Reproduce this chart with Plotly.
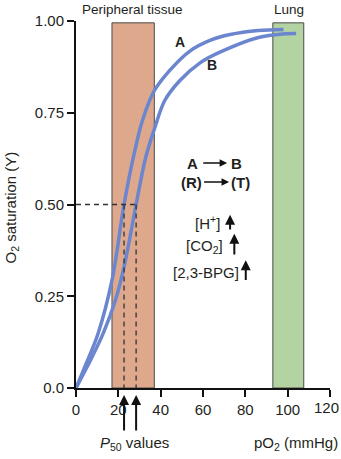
import plotly.graph_objects as go

# Oxygen binding curves (pO2 in mmHg, fractional saturation Y)
curve_a_po2 = [0, 4.1, 10.4, 17.0, 22.7, 27.5, 31.4, 37.0, 44.4, 53.8, 63.3, 72.8, 86.2, 98.0]
curve_a_sat = [0, 0.057, 0.148, 0.293, 0.50, 0.639, 0.729, 0.81, 0.866, 0.918, 0.947, 0.963, 0.974, 0.977]
curve_b_po2 = [0, 5.2, 12.8, 18.6, 22.7, 28.4, 33.0, 37.0, 42.0, 49.1, 58.6, 68.0, 86.2, 98.8, 104.0]
curve_b_sat = [0, 0.057, 0.148, 0.239, 0.33, 0.50, 0.63, 0.705, 0.784, 0.838, 0.886, 0.915, 0.955, 0.965, 0.966]

# P50 values for each curve
p50_values = [22.7, 28.4]

# pO2 bands
tissue_band = [17.0, 37.0]
lung_band = [93.0, 107.6]
band_top = 0.995

x_ticks = [0, 20, 40, 60, 80, 100, 120]
x_tick_text = ["0", "20", "40", "60", "80", "100", ""]  # last label placed separately at the edge
y_ticks = [0, 0.25, 0.5, 0.75, 1.0]
y_tick_text = ["0.0", "0.25", "0.50", "0.75", "1.00"]

TEXT = "#231f20"
FONT = "Liberation Sans, Arial, sans-serif"
CURVE = "#6b86cf"

fig = go.Figure()

for xs, ys in [(curve_a_po2, curve_a_sat), (curve_b_po2, curve_b_sat)]:
    fig.add_trace(go.Scatter(
        x=xs, y=ys, mode="lines",
        line=dict(color=CURVE, width=3.5, shape="spline", smoothing=1.0),
        cliponaxis=False, hoverinfo="skip", showlegend=False,
    ))

shapes = [
    dict(type="rect", xref="x", yref="y", x0=tissue_band[0], x1=tissue_band[1], y0=0, y1=band_top,
         fillcolor="#dea88c", line=dict(color="#4a4a4a", width=1), layer="below"),
    dict(type="rect", xref="x", yref="y", x0=lung_band[0], x1=lung_band[1], y0=0, y1=band_top,
         fillcolor="#b3d3a2", line=dict(color="#4a4a4a", width=1), layer="below"),
    dict(type="line", xref="x", yref="y", x0=0, x1=p50_values[1], y0=0.5, y1=0.5,
         line=dict(color="#333333", width=1.3, dash="5px,4px")),
]
for p in p50_values:
    shapes.append(dict(type="line", xref="x", yref="y", x0=p, x1=p, y0=0.5, y1=0,
                       line=dict(color="#333333", width=1.3, dash="5px,4px")))

ann = []

def label(text, x, y, size=15, xanchor="center", xref="x", yref="y", **kw):
    ann.append(dict(text=text, x=x, y=y, xref=xref, yref=yref, showarrow=False,
                    xanchor=xanchor, yanchor="middle",
                    font=dict(family=FONT, size=size, color=TEXT), **kw))

def arrow(x0, y0, x1, y1, width=1.6, size=1.0):
    ann.append(dict(x=x1, y=y1, ax=x0, ay=y0, xref="x", yref="y", axref="x", ayref="y",
                    showarrow=True, arrowhead=2, arrowsize=size, arrowwidth=width,
                    arrowcolor="#111111", text=""))

label("Peripheral tissue", 26.8, 1.031, size=13.5, yref="paper")
label("Lung", 100.4, 1.031, size=13.5, yref="paper")
label("<b>A</b>", 49.1, 0.943, size=14)
label("<b>B</b>", 64.1, 0.879, size=14)

label("<b>A</b>", 54.9, 0.613, size=15)
label("<b>B</b>", 75.9, 0.613, size=15)
arrow(59.4, 0.613, 71.4, 0.613, width=1.5)
label("<b>(R)</b>", 54.6, 0.561, size=15)
label("<b>(T)</b>", 77.5, 0.561, size=15)
arrow(59.8, 0.561, 72.3, 0.561, width=1.5)

label("[H<sup>+</sup>]", 68.8, 0.45, xanchor="right")
arrow(72.8, 0.428, 72.8, 0.472, width=2)
label("[CO<sub>2</sub>]", 70.4, 0.386, xanchor="right")
arrow(74.8, 0.36, 74.8, 0.42, width=2)
label("[2,3-BPG]", 78.0, 0.314, xanchor="right")
arrow(80.2, 0.29, 80.2, 0.348, width=2)

# P50 markers below the axis
for p in p50_values:
    ann.append(dict(x=p, y=-0.019, xref="x", yref="paper", ax=0, ay=37,
                    showarrow=True, arrowhead=2, arrowsize=1.0, arrowwidth=2,
                    arrowcolor="#111111", text=""))

# final x tick label, kept inside the page edge
ann.append(dict(text=str(x_ticks[-1]), x=x_ticks[-1], y=0, xref="x", yref="paper",
                showarrow=False, xanchor="right", yanchor="top", xshift=11, yshift=-9,
                font=dict(family=FONT, size=15, color=TEXT)))

label("<i>P</i><sub>50</sub> values", 27.4, -0.150, yref="paper")
label("pO<sub>2</sub> (mmHg)", 1.039, -0.150, xanchor="right", xref="paper", yref="paper")
label("O<sub>2</sub> saturation (Y)", -0.256, 0.492, xref="paper", yref="paper", textangle=-90)

fig.update_layout(
    width=341, height=459,
    margin=dict(l=76, r=11, t=21, b=71, autoexpand=False),
    paper_bgcolor="white", plot_bgcolor="white",
    font=dict(family=FONT, size=15, color=TEXT),
    shapes=shapes, annotations=ann,
    xaxis=dict(range=[0, 120], tickvals=x_ticks, ticktext=x_tick_text, showgrid=False,
               zeroline=False, showline=True, linecolor="#111111", linewidth=2,
               ticks="outside", ticklen=7, tickwidth=2, tickcolor="#111111",
               tickfont=dict(size=15, family=FONT, color=TEXT)),
    yaxis=dict(range=[0, 1], tickvals=y_ticks, ticktext=y_tick_text, showgrid=False,
               zeroline=False, showline=True, linecolor="#111111", linewidth=2,
               ticks="outside", ticklen=7, tickwidth=2, tickcolor="#111111",
               tickfont=dict(size=15, family=FONT, color=TEXT)),
)

fig.write_html("out.html")
